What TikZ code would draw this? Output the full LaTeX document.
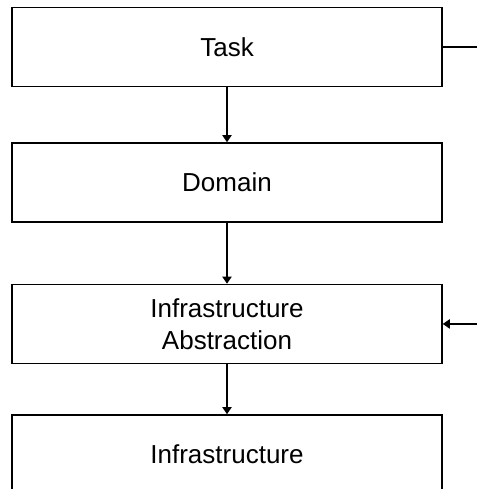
\documentclass[tikz,border=0pt]{standalone}
\usepackage{fontspec}
\setmainfont{Liberation Sans}
\usetikzlibrary{positioning,arrows.meta}

\begin{document}
\begin{tikzpicture}[
  layer/.style={draw, line width=1.05pt, minimum width=10.75cm, minimum height=1.975cm,
    inner sep=0pt, align=center, font=\fontsize{18.5}{22.8}\selectfont},
  link/.style={line width=1.05pt, -{Triangle[width=6.5pt,length=5pt]}}
]
  \clip (0,0) rectangle (11.925,-12.225);

  % Layers
  \node[layer] (task) at (5.675,-1.175) {Task};
  \node[layer, below=1.375cm of task] (domain) {Domain};
  \node[layer, below=1.525cm of domain] (infabs) {Infrastructure\\Abstraction};
  \node[layer, below=1.25cm of infabs] (infra) {Infrastructure};

  % Links
  \draw[link] (task) -- (domain);
  \draw[link] (domain) -- (infabs);
  \draw[link] (infabs) -- (infra);

  % Outside
  \coordinate (taskout) at (12,-1.175);
  \coordinate (infabsin) at (infabs.east -| taskout);
  \draw[line width=1.05pt] (task.east) -- (taskout);
  \draw[link] (infabsin) -- (infabs.east);
\end{tikzpicture}
\end{document}
